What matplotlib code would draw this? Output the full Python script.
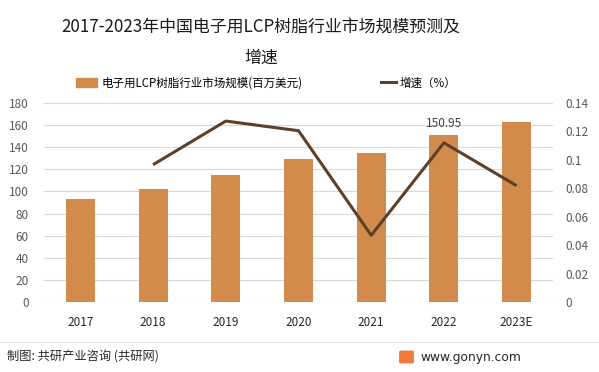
import matplotlib
matplotlib.use("Agg")
import matplotlib.pyplot as plt
from matplotlib.patches import Patch, FancyBboxPatch
from matplotlib.lines import Line2D

plt.rcParams['font.family'] = ['Noto Sans CJK SC', 'DejaVu Sans']

years = ["2017", "2018", "2019", "2020", "2021", "2022", "2023E"]
market = [93.2, 102.3, 115.3, 129.4, 134.8, 150.95, 162.9]
growth = [None, 0.0966, 0.1273, 0.1205, 0.0469, 0.112, 0.0818]

BAR_C = "#D38B4C"
LINE_C = "#5E4029"
GRID_C = "#D9D9D9"
TICK_C = "#595959"

fig = plt.figure(figsize=(5.99, 3.72), dpi=100)
ax = fig.add_axes([44 / 599, 1 - 302 / 372, 509 / 599, 199 / 372])
ax2 = ax.twinx()

x = list(range(len(years)))
ax.bar(x, market, width=0.4, color=BAR_C, zorder=2)
gx = [i for i, g in zip(x, growth) if g is not None]
gy = [g for g in growth if g is not None]
ax2.plot(gx, gy, color=LINE_C, lw=2.2, solid_capstyle="butt", zorder=3)

ax.set_xlim(-0.5, len(years) - 0.5)
ax.set_ylim(0, 180)
ax.set_yticks(range(0, 181, 20))
ax2.set_ylim(0, 0.14)
ax2.set_yticks([0, 0.02, 0.04, 0.06, 0.08, 0.1, 0.12, 0.14])
ax2.set_yticklabels(["0", "0.02", "0.04", "0.06", "0.08", "0.1", "0.12", "0.14"])
ax.set_xticks(x)
ax.set_xticklabels(years)
ax.grid(axis="y", color=GRID_C, lw=0.8, zorder=0)
ax.set_axisbelow(True)
for a in (ax, ax2):
    for s in a.spines.values():
        s.set_visible(False)
    a.tick_params(length=0, labelsize=8.5, colors=TICK_C)
ax.tick_params(axis="x", pad=10, colors="#262626")
ax.tick_params(axis="y", pad=11)
ax2.tick_params(axis="y", pad=9)

ax.annotate(f"{market[5]:.2f}", (5, market[5]), xytext=(0, 4), textcoords="offset points",
            ha="center", va="bottom", fontsize=8.5, color="#404040")

fig.text(261 / 599, 1 - 27 / 372, "2017-2023年中国电子用LCP树脂行业市场规模预测及",
         ha="center", va="center", fontsize=12.2, color="#1a1a1a")
fig.text(261 / 599, 1 - 58 / 372, "增速", ha="center", va="center", fontsize=12.2,
         color="#1a1a1a")

handles = [Patch(color=BAR_C), Line2D([0], [0], color=LINE_C, lw=2.2)]
fig.legend(handles[:1], ["电子用LCP树脂行业市场规模(百万美元)"], loc="center left",
           bbox_to_anchor=(66 / 599, 1 - 83 / 372), frameon=False, fontsize=8.3,
           handlelength=1.8, handleheight=0.8, handletextpad=0.35)
fig.legend(handles[1:], ["增速（%）"], loc="center left",
           bbox_to_anchor=(371 / 599, 1 - 83 / 372), frameon=False, fontsize=8.3,
           handlelength=1.3, handletextpad=0.3)

fig.add_artist(Line2D([0, 1], [1 - 342 / 372] * 2, color="#E6E6E6", lw=0.8))
fig.text(7 / 599, 1 - 357 / 372, "制图: 共研产业咨询 (共研网)", ha="left", va="center",
         fontsize=8.8, color="#262626")
fig.add_artist(FancyBboxPatch((401 / 599, 1 - 362 / 372), 11 / 599, 10 / 372,
                              boxstyle="round,pad=0.002", color="#F07A3A",
                              transform=fig.transFigure))
fig.text(420 / 599, 1 - 357 / 372, "www.gonyn.com", ha="left", va="center",
         fontsize=8.8, color="#262626", family="DejaVu Sans")

fig.savefig("out.png", dpi=100)
